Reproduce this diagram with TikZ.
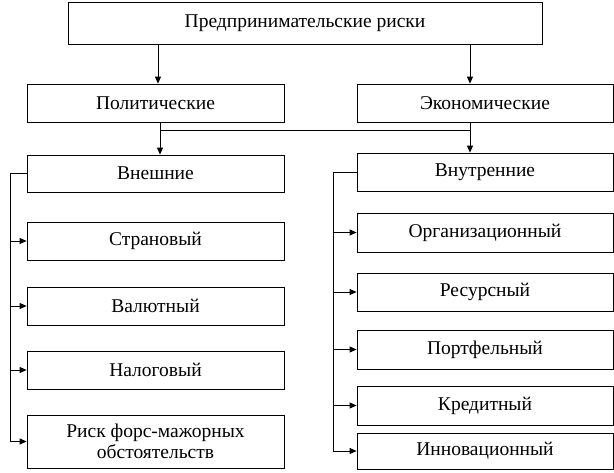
\documentclass[tikz,border=0pt]{standalone}
\usepackage{fontspec}
\setmainfont{Liberation Serif}
\usetikzlibrary{arrows.meta}
\begin{document}
\begin{tikzpicture}[x=1pt,y=-1pt,
  bx/.style={draw,line width=0.8pt,inner sep=0pt,align=center,font=\fontsize{19.5}{21}\selectfont},
  ar/.style={-{Triangle[length=7pt,width=6pt]},line width=0.8pt},
  ln/.style={line width=0.8pt}]
\useasboundingbox (0,0) rectangle (614,472);
\newcommand\bxat[6]{\node[bx,minimum width=#4-#2,minimum height=#5-#3] (#1) at ({(#2+#4)/2},{(#3+#5)/2}) {#6};}
\bxat{top}{68}{2}{542}{44}{Предпринимательские риски}
\bxat{pol}{27}{84}{284}{122}{Политические}
\bxat{eco}{357}{84}{613}{122}{Экономические}
\bxat{ext}{27}{155}{284}{192}{Внешние}
\bxat{int}{357}{153}{613}{191}{Внутренние}
\bxat{l1}{27}{222}{284}{260}{Страновый}
\bxat{l2}{27}{287}{284}{325}{Валютный}
\bxat{l3}{27}{351}{284}{389}{Налоговый}
\bxat{l4}{27}{415}{284}{468}{Риск форс-мажорных\\обстоятельств}
\bxat{r1}{357}{213}{613}{252}{Организационный}
\bxat{r2}{357}{273}{613}{311}{Ресурсный}
\bxat{r3}{357}{330}{613}{369}{Портфельный}
\bxat{r4}{357}{386}{613}{425}{Кредитный}
\bxat{r5}{357}{433}{613}{469}{Инновационный}
\draw[ar] (top.south -| 158,0) -- (pol.north -| 158,0);
\draw[ar] (top.south -| 470,0) -- (eco.north -| 470,0);
\coordinate (ja) at (160,130); \coordinate (jb) at (470,130);
\draw[ln] (pol.south -| ja) -- (ja) -- (jb);
\draw[ar] (ja) -- (ext.north -| ja);
\draw[ar] (eco.south -| jb) -- (int.north -| jb);
\coordinate (lt) at (10,173.5); \coordinate (lb) at (10,441.5);
\draw[ln] (ext.west) -- (lt) -- (lb);
\foreach \n in {l1,l2,l3,l4} \draw[ar] (\n.west -| lt) -- (\n.west);
\coordinate (rt) at (333,172); \coordinate (rb) at (333,451);
\draw[ln] (int.west) -- (rt) -- (rb);
\foreach \n in {r1,r2,r3,r4,r5} \draw[ar] (\n.west -| rt) -- (\n.west);
\end{tikzpicture}
\end{document}
